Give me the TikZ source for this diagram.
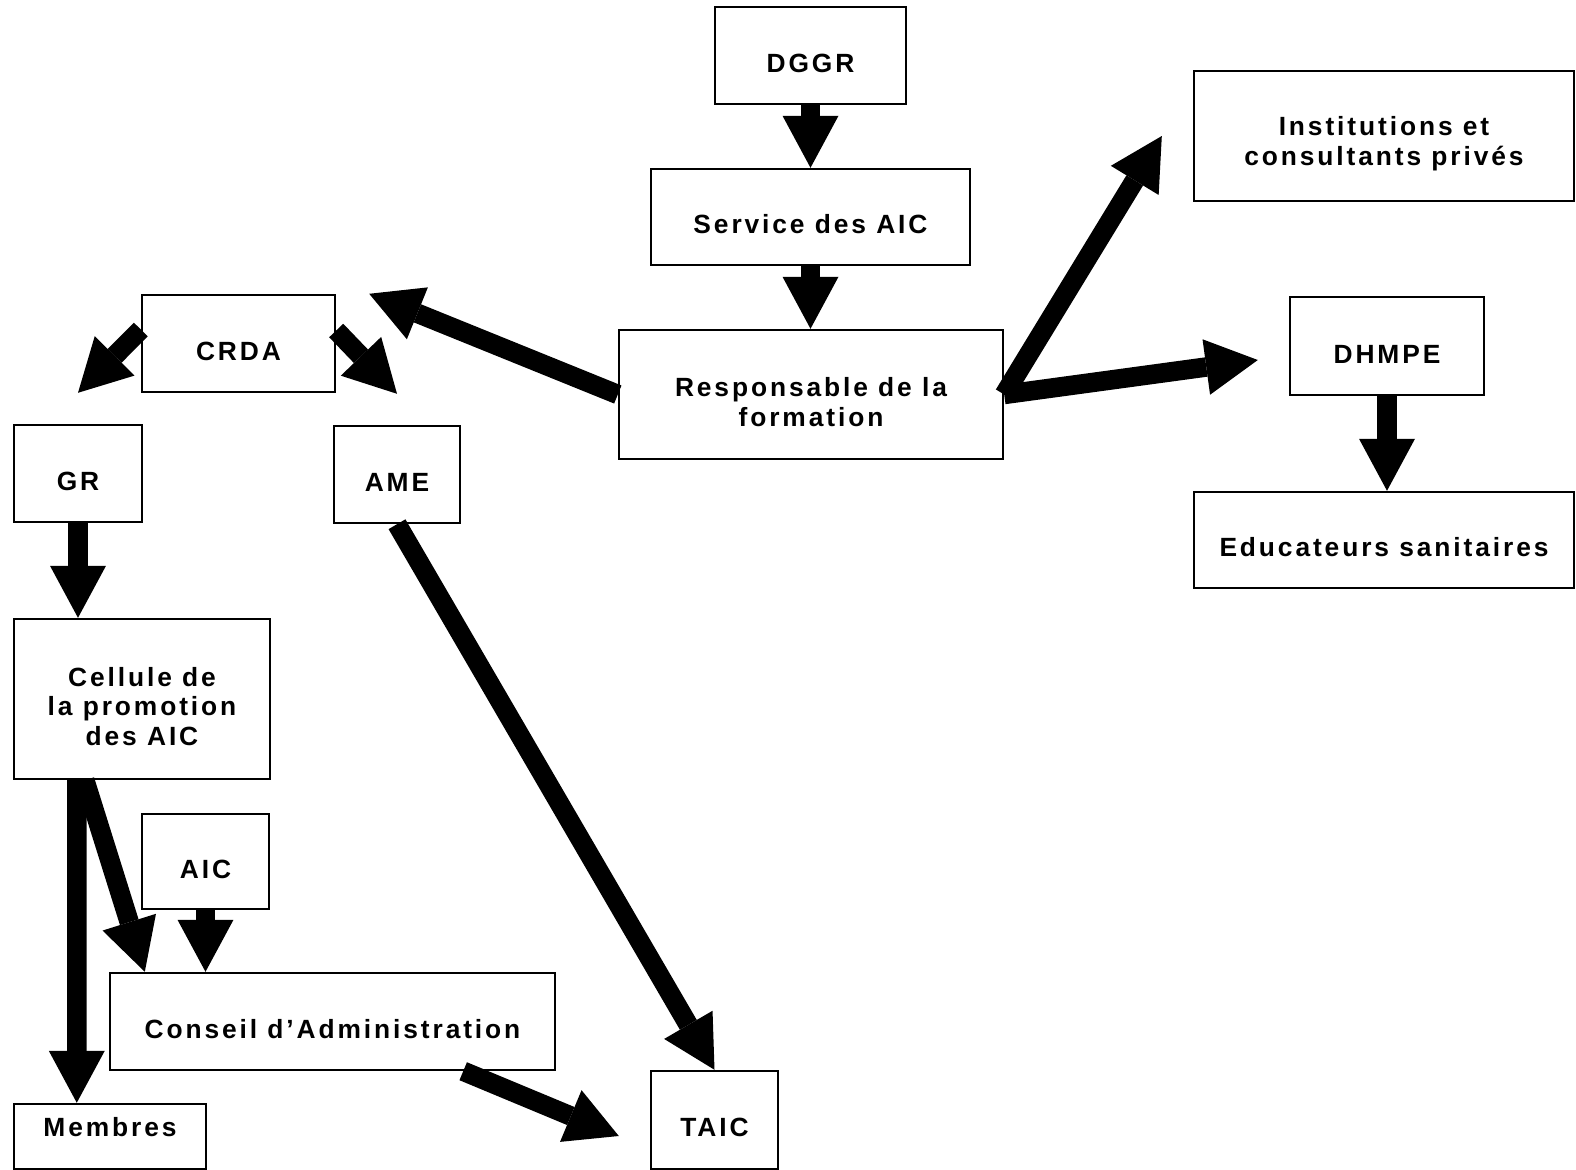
\documentclass[tikz,border=0pt]{standalone}
\usepackage{fontspec}
\setmainfont{Liberation Sans}[LetterSpace=11]
\usetikzlibrary{arrows.meta}
% lowers the text a little inside its box
\newcommand\lowtext{\rule{0pt}{0.68cm}}

\begin{document}
\begin{tikzpicture}[x=0.02cm,y=-0.02cm,
 every node/.style={font=\bfseries\fontsize{15}{17}\selectfont},
 box/.style={draw,line width=1.4pt,align=center,inner sep=0pt},
 flow/.style={line width=0.39cm,-{Triangle[width=1.12cm,length=1.04cm,line width=0pt]}}]
 \useasboundingbox (0,0) rectangle (1576,1170);
 % boxes
 \node [box,minimum width=3.82cm,minimum height=1.94cm] (dggr) at (810.5,55.5) {\lowtext DGGR};
 \node [box,minimum width=6.38cm,minimum height=1.92cm] (svc) at (810.5,217) {\lowtext Service des AIC};
 \node [box,minimum width=7.68cm,minimum height=2.58cm] (resp) at (811,394.5) {\lowtext Responsable de la\\formation};
 \node [box,minimum width=3.86cm,minimum height=1.94cm] (crda) at (238.5,343.5) {\lowtext CRDA};
 \node [box,minimum width=2.56cm,minimum height=1.94cm] (gr) at (78,473.5) {\lowtext GR};
 \node [box,minimum width=2.52cm,minimum height=1.94cm] (ame) at (397,474.5) {\lowtext AME};
 \node [box,minimum width=5.12cm,minimum height=3.2cm] (cell) at (142,699) {\lowtext Cellule de\\la promotion\\des AIC};
 \node [box,minimum width=2.54cm,minimum height=1.9cm] (aic) at (205.5,861.5) {\lowtext AIC};
 \node [box,minimum width=8.9cm,minimum height=1.94cm] (ca) at (332.5,1021.5) {\lowtext Conseil d'Administration};
 \node [box,minimum width=3.84cm,minimum height=1.3cm] (memb) at (110,1136.5) {Membres\rule[-0.4cm]{0pt}{0.4cm}};
 \node [box,minimum width=2.54cm,minimum height=1.96cm] (taic) at (714.5,1120) {\lowtext TAIC};
 \node [box,minimum width=7.6cm,minimum height=2.6cm] (inst) at (1384,136) {\lowtext Institutions et\\consultants privés};
 \node [box,minimum width=3.88cm,minimum height=1.96cm] (dhmpe) at (1387,346) {\lowtext DHMPE};
 \node [box,minimum width=7.6cm,minimum height=1.92cm] (educ) at (1384,540) {\lowtext Educateurs sanitaires};
 % arrows
 \foreach \a/\b in {dggr/svc,svc/resp,gr/cell,dhmpe/educ}
  \draw [flow] (\a.south) -- (\a.south |- \b.north);
 \draw [flow] (resp.west) -- ([xshift=0.66cm]crda.north east);
 \draw [flow] ([yshift=0.28cm]crda.west) -- ([yshift=0.62cm]gr.north);
 \draw [flow] ([yshift=0.26cm]crda.east) -- ([yshift=0.62cm]ame.north);
 \draw [flow] (resp.east) -- ([xshift=-0.62cm]inst.west);
 \draw [flow] (resp.east) -- ([xshift=-0.62cm,yshift=-0.28cm]dhmpe.west);
 \draw [flow] (ame.south) -- (taic.north);
 \draw [flow] ([xshift=1.28cm]cell.south west) -- ([xshift=1.28cm]memb.north west);
 \draw [flow] ([xshift=1.44cm]cell.south west) -- ([xshift=0.72cm]ca.north west);
 \draw [flow] (aic.south) -- (aic.south |- ca.north);
 \draw [flow] ([xshift=-1.86cm]ca.south east) -- ([xshift=-0.62cm,yshift=-0.32cm]taic.west);
\end{tikzpicture}
\end{document}
